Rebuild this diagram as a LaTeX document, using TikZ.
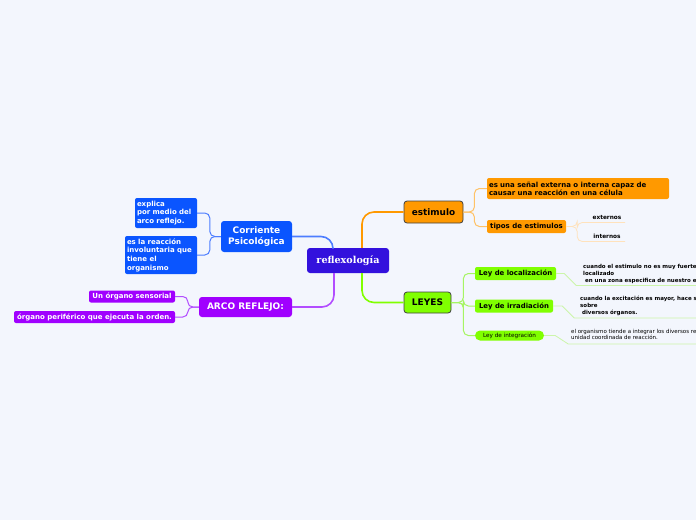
\documentclass[tikz,border=0pt]{standalone}
\usepackage{fontspec}
\setmainfont{DejaVu Sans}
\newfontfamily\rootfont{DejaVu Serif}
\usetikzlibrary{positioning,calc}
\definecolor{bgpaper}{HTML}{F3F6FD}
\definecolor{rootcol}{HTML}{3311DD}
\definecolor{orangecol}{HTML}{FF9900}
\definecolor{orangeline}{HTML}{FFC266}
\definecolor{orangepale}{HTML}{FFE2BC}
\definecolor{greencol}{HTML}{80FF00}
\definecolor{greenline}{HTML}{A6F562}
\definecolor{greenpale}{HTML}{CCF5AA}
\definecolor{bluecol}{HTML}{0A55FF}
\definecolor{blueline}{HTML}{4D7DFF}
\definecolor{purplecol}{HTML}{A000FF}
\definecolor{purpleline}{HTML}{B24DFF}
\tikzset{
    fsz/.style = {font=\bfseries\fontsize{#1}{#1}\selectfont},
    box/.style = {rectangle, rounded corners=3pt, inner sep=2pt, align=center},
    link/.style = {line width=1.6pt, rounded corners=12pt},
    twig/.style = {line width=1pt, rounded corners=5pt}
}
\begin{document}
\begin{tikzpicture}[x=1pt, y=-1pt,
    rootbox/.style={box, fill=rootcol, text=white, minimum width=82pt, minimum height=25pt,
                    font=\rootfont\bfseries\fontsize{9.6}{11}\selectfont},
    mainorange/.style={box, fill=orangecol, draw=black!75, line width=0.8pt, fsz=8.9},
    maingreen/.style={box, fill=greencol, draw=black!75, line width=0.8pt, fsz=9},
    suborange/.style={box, fill=orangecol, rounded corners=2pt, fsz=7},
    subgreen/.style={box, fill=greencol, rounded corners=2pt, fsz=6.9},
    mainblue/.style={box, fill=bluecol, text=white, fsz=9},
    subblue/.style={box, fill=bluecol, text=white, rounded corners=2pt, align=left, fsz=7},
    mainpurple/.style={box, fill=purplecol, text=white, fsz=9},
    subpurple/.style={box, fill=purplecol, text=white, rounded corners=2pt, fsz=7},
    note/.style={anchor=north west, align=left, inner sep=0pt, fsz=5.5}
]
    \useasboundingbox[fill=bgpaper] (0,0) rectangle (696,520);

    \node[rootbox] (root) at (348,260.5) {reflexología};

    % right side
    \node[mainorange, minimum width=59pt, minimum height=22pt] (estim) at (433.5,212) {estimulo};
    \node[suborange, minimum width=182pt, minimum height=21pt, align=left, text width=178pt,
          font=\bfseries\fontsize{7}{8.3}\selectfont] (def) at (578,188.5)
          {es una señal externa o interna capaz de\\causar una reacción en una célula};
    \node[suborange, minimum width=79pt, minimum height=13pt] (tipos) at (526.5,226.5) {tipos de estimulos};
    \node[fsz=5.8, inner sep=1pt] (ext) at (607,217) {externos};
    \node[fsz=5.8, inner sep=1pt] (int) at (607,236) {internos};
    \coordinate (extend) at (625,222.5);
    \coordinate (intend) at (625,241.5);

    \node[maingreen, minimum width=47pt, minimum height=21pt] (leyes) at (427.5,302.5) {LEYES};
    \node[subgreen, minimum width=81pt, minimum height=13pt] (loc) at (515.5,273.5) {Ley de localización};
    \node[subgreen, minimum width=78pt, minimum height=13pt] (irr) at (514,306) {Ley de irradiación};
    \node[box, fill=greencol, rounded corners=5pt, minimum width=69pt, minimum height=10pt,
          font=\fontsize{5.7}{5.7}\selectfont] (integ) at (509.5,335.5) {Ley de integración};

    \node[note, font=\bfseries\fontsize{5.5}{7}\selectfont] (locnote) at (583,264.5)
          {cuando el estimulo no es muy fuerte\\localizado\\\ en una zona especifica de nuestro e};
    \node[note, font=\bfseries\fontsize{5.5}{7}\selectfont] (irrnote) at (580,295.5)
          {cuando la excitación es mayor, hace s\\sobre\\\ diversos órganos.};
    \node[note, font=\fontsize{5.5}{6.5}\selectfont] (intnote) at (571,329)
          {el organismo tiende a integrar los diversos re\\unidad coordinada de reacción.};
    \coordinate (locend) at (696,285.5);
    \coordinate (irrend) at (696,318);
    \coordinate (intend2) at (696,344);

    % left side
    \node[mainblue, minimum width=71pt, minimum height=31pt,
          font=\bfseries\fontsize{9}{11}\selectfont] (corr) at (256.5,236.5) {Corriente\\Psicológica};
    \node[subblue, minimum width=62pt, minimum height=30pt, text width=58pt,
          font=\bfseries\fontsize{7}{8.7}\selectfont] (expl) at (166,213) {explica\\por medio del\\arco reflejo.};
    \node[subblue, minimum width=72pt, minimum height=38pt, text width=68pt,
          font=\bfseries\fontsize{7}{8.7}\selectfont] (reac) at (161,255) {es la reacción\\involuntaria que\\tiene el\\organismo};

    \node[mainpurple, minimum width=93pt, minimum height=20pt] (arco) at (245.5,307) {ARCO REFLEJO:};
    \node[subpurple, minimum width=86pt, minimum height=12pt] (sens) at (132,296.5) {Un órgano sensorial};
    \node[subpurple, minimum width=161pt, minimum height=12pt] (perif) at (94.5,317) {órgano periférico que ejecuta la orden.};

    % connectors
    \draw[link, draw=orangecol] ([xshift=14pt]root.north) |- (estim.west);
    \draw[link, draw=greencol] ([xshift=14pt]root.south) |- (leyes.west);
    \draw[link, draw=blueline] ([xshift=-15pt]root.north) |- (corr.east);
    \draw[link, draw=purpleline] ([xshift=-14pt]root.south) |- (arco.east);

    \draw[twig, draw=orangeline] (estim.east) -- ++(11,0) |- (def.west);
    \draw[twig, draw=orangeline] (estim.east) -- ++(11,0) |- (tipos.west);
    \draw[twig, line width=0.8pt, draw=orangepale] (tipos.east) -- ++(11,0) |- (extend);
    \draw[twig, line width=0.8pt, draw=orangepale] (tipos.east) -- ++(11,0) |- (intend);

    \draw[twig, draw=greenline] (leyes.east) -- ++(12,0) |- (loc.west);
    \draw[twig, draw=greenline] (leyes.east) -- ++(12,0) |- (irr.west);
    \draw[twig, draw=greenline] (leyes.east) -- ++(12,0) |- (integ.west);
    \draw[line width=0.8pt, draw=greenpale] (loc.east) -- ++(8,0) -- ++(12,12) -- (locend);
    \draw[line width=0.8pt, draw=greenpale] (irr.east) -- ++(9,0) -- ++(12,12) -- (irrend);
    \draw[line width=0.8pt, draw=greenpale] (integ.east) -- ++(11,0) -- ++(13,8.5) -- (intend2);

    \draw[twig, draw=blueline] (corr.west) -- ++(-11,0) |- (expl.east);
    \draw[twig, draw=blueline] (corr.west) -- ++(-11,0) |- (reac.east);
    \draw[twig, draw=purpleline] (arco.west) -- ++(-11,0) |- (sens.east);
    \draw[twig, draw=purpleline] (arco.west) -- ++(-11,0) |- (perif.east);
\end{tikzpicture}
\end{document}
